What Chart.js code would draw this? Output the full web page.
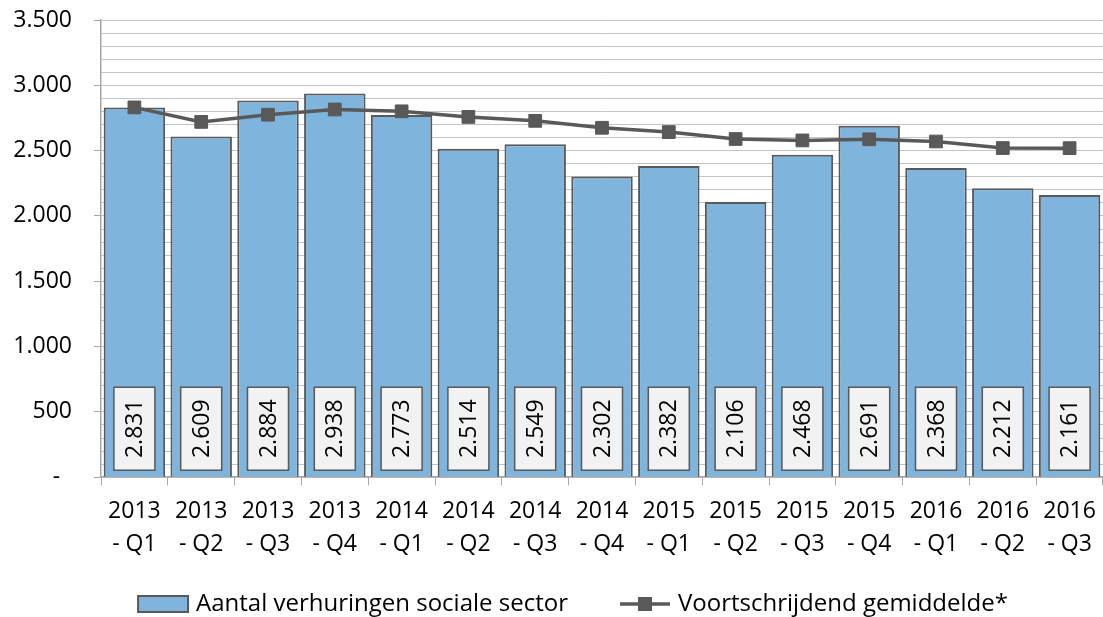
<!DOCTYPE html>
<html>
<head>
<meta charset="utf-8">
<script src="https://cdn.jsdelivr.net/npm/chart.js@4/dist/chart.umd.min.js"></script>
<style>
  html, body { margin: 0; padding: 0; background: #fff; }
  #wrap { width: 1103px; height: 617px; }
</style>
</head>
<body>
<div id="wrap"><canvas id="chart"></canvas></div>
<script>
const years = ['2013', '2013', '2013', '2013', '2014', '2014', '2014', '2014', '2015', '2015', '2015', '2015', '2016', '2016', '2016'];
const quarters = ['- Q1', '- Q2', '- Q3', '- Q4', '- Q1', '- Q2', '- Q3', '- Q4', '- Q1', '- Q2', '- Q3', '- Q4', '- Q1', '- Q2', '- Q3'];
const rentals = [2831, 2609, 2884, 2938, 2773, 2514, 2549, 2302, 2382, 2106, 2468, 2691, 2368, 2212, 2161];
const movingAvg = [2831, 2720, 2775, 2815, 2801, 2758, 2728, 2675, 2642, 2589, 2578, 2587, 2570, 2520, 2519];
const yMax = 3500;

const fontFamily = '"Open Sans", "Noto Sans", sans-serif';
const fmt = v => String(v).replace(/\B(?=(\d{3})+(?!\d))/g, '.');

// legend swatches: transparent on the left to space the items, overhang on the right
const swW = 77, swImg = swW + 12;
const barSwatch = document.createElement('canvas');
barSwatch.width = swImg; barSwatch.height = 18;
let g = barSwatch.getContext('2d');
g.fillStyle = '#7FB5DC';
g.fillRect(swImg - 52, 1, 50, 16);
g.strokeStyle = '#595959';
g.lineWidth = 2;
g.strokeRect(swImg - 52, 1, 50, 16);

const lineSwatch = document.createElement('canvas');
lineSwatch.width = swImg; lineSwatch.height = 18;
g = lineSwatch.getContext('2d');
g.strokeStyle = '#595959';
g.lineWidth = 3.5;
g.beginPath(); g.moveTo(swImg - 52, 9); g.lineTo(swImg - 2, 9); g.stroke();
g.fillStyle = '#595959';
g.fillRect(swImg - 34, 2, 14, 14);

const barLabels = {
  id: 'barLabels',
  afterDatasetsDraw(chart) {
    const ctx = chart.ctx;
    const base = chart.scales.y.getPixelForValue(0);
    chart.getDatasetMeta(1).data.forEach((bar, i) => {
      const w = 41, h = 83;
      const x = bar.x - w / 2, top = base - 7 - h;
      ctx.save();
      ctx.fillStyle = '#F2F2F2';
      ctx.fillRect(x, top, w, h);
      ctx.strokeStyle = '#595959';
      ctx.lineWidth = 1.5;
      ctx.strokeRect(x, top, w, h);
      ctx.translate(bar.x, top + h / 2);
      ctx.rotate(-Math.PI / 2);
      ctx.fillStyle = '#000';
      ctx.font = '23px ' + fontFamily;
      ctx.textAlign = 'center';
      ctx.textBaseline = 'middle';
      ctx.fillText(fmt(rentals[i]), 0, 1);
      ctx.restore();
    });
  }
};

new Chart(document.getElementById('chart'), {
  type: 'bar',
  data: {
    labels: years.map((y, i) => [y, quarters[i]]),
    datasets: [{
      type: 'line',
      label: 'Voortschrijdend gemiddelde*',
      data: movingAvg,
      borderColor: '#595959',
      borderWidth: 3.5,
      pointStyle: 'rect',
      pointRadius: 9,
      pointBackgroundColor: '#595959',
      pointBorderColor: '#595959',
      pointBorderWidth: 1,
      order: 0,
    }, {
      label: 'Aantal verhuringen sociale sector',
      data: rentals,
      backgroundColor: '#7FB5DC',
      borderColor: '#595959',
      borderWidth: 2,
      barPercentage: 0.92,
      categoryPercentage: 1,
      order: 1,
    }],
  },
  options: {
    responsive: true,
    maintainAspectRatio: false,
    animation: false,
    layout: { autoPadding: false, padding: { top: 20, right: 0, left: 12, bottom: -9 } },
    plugins: {
      tooltip: { enabled: false },
      legend: {
        position: 'bottom',
        reverse: true,
        labels: {
          color: '#000',
          font: { family: fontFamily, size: 24 },
          usePointStyle: true,
          pointStyleWidth: swW,
          padding: 21,
          generateLabels(chart) {
            return chart.data.datasets.map((ds, i) => ({
              text: ds.label,
              datasetIndex: i,
              pointStyle: i === 0 ? lineSwatch : barSwatch,
              fillStyle: 'transparent',
              strokeStyle: 'transparent',
              lineWidth: 0,
            }));
          },
        },
      },
    },
    scales: {
      x: {
        offset: true,
        afterFit(scale) { scale.paddingLeft = 0; scale.paddingRight = 0; },
        grid: {
          offset: true,
          drawOnChartArea: false,
          drawTicks: true,
          tickLength: 8,
          color: '#A6A6A6',
        },
        border: { color: '#A6A6A6', width: 1.5 },
        ticks: {
          color: '#000',
          font: { family: fontFamily, size: 23, lineHeight: 1.43 },
          maxRotation: 0,
          autoSkip: false,
          padding: 10,
        },
      },
      y: {
        min: 0,
        max: yMax,
        afterFit(scale) { scale.width = 89; scale.paddingTop = 0; },
        grid: {
          color: '#C4C4C4',
          tickLength: 7,
          tickColor: c => (c.tick && c.tick.value % 500 === 0) ? '#A6A6A6' : 'rgba(0,0,0,0)',
        },
        border: { color: '#A6A6A6', width: 1.5 },
        ticks: {
          stepSize: 100,
          autoSkip: false,
          color: '#000',
          font: { family: fontFamily, size: 23 },
          padding: 22,
          callback: v => v === 0 ? '-  ' : (v % 500 === 0 ? fmt(v) : ''),
        },
      },
    },
  },
  plugins: [barLabels],
});
</script>
</body>
</html>
